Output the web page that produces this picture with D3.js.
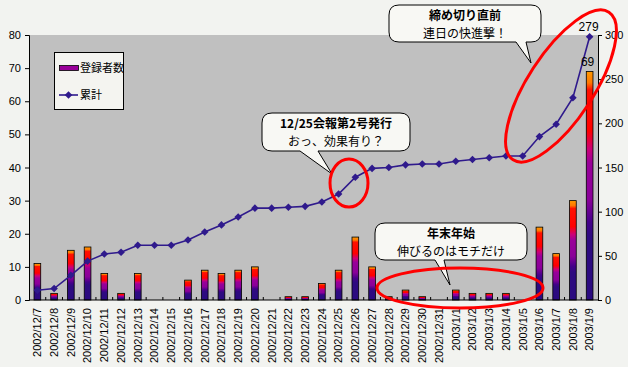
<!DOCTYPE html>
<html>
<head>
<meta charset="utf-8">
<script src="https://cdn.jsdelivr.net/npm/d3@7"></script>
<style>
  html, body { margin: 0; padding: 0; background: #f2f3f0; }
  svg { display: block; }
</style>
</head>
<body>
<svg id="chart" width="628" height="367"></svg>
<script>
(() => {
  // data
  const dates = [
    "2002/12/7", "2002/12/8", "2002/12/9", "2002/12/10", "2002/12/11", "2002/12/12",
    "2002/12/13", "2002/12/14", "2002/12/15", "2002/12/16", "2002/12/17", "2002/12/18",
    "2002/12/19", "2002/12/20", "2002/12/21", "2002/12/22", "2002/12/23", "2002/12/24",
    "2002/12/25", "2002/12/26", "2002/12/27", "2002/12/28", "2002/12/29", "2002/12/30",
    "2002/12/31", "2003/1/1", "2003/1/2", "2003/1/3", "2003/1/4", "2003/1/5",
    "2003/1/6", "2003/1/7", "2003/1/8", "2003/1/9"
  ];
  const registrations = [11, 2, 15, 16, 8, 2, 8, 0, 0, 6, 9, 8, 9, 10, 0, 1, 1, 5,
    9, 19, 10, 1, 3, 1, 0, 3, 2, 2, 2, 0, 22, 14, 30, 69];
  const cumulative = [11, 13, 28, 44, 52, 54, 62, 62, 62, 68, 77, 85, 94, 104, 104, 105, 106, 111,
    120, 139, 149, 150, 153, 154, 154, 157, 159, 161, 163, 163, 185, 199, 229, 298];
  const leftTicks = [0, 10, 20, 30, 40, 50, 60, 70, 80];
  const rightTicks = [0, 50, 100, 150, 200, 250, 300];
  const seriesNames = ["登録者数", "累計"];

  const svg = d3.select("#chart");
  const margin = {top: 35, right: 30, bottom: 67, left: 29};
  const W = 628, H = 367;
  const lineColor = "#2f1a8c";
  const jp = "'Noto Sans CJK JP', sans-serif";
  const num = "'Liberation Sans', Arial, sans-serif";

  const x = d3.scaleBand().domain(dates).range([margin.left, W - margin.right]).padding(0);
  const yL = d3.scaleLinear().domain([0, 80]).range([H - margin.bottom, margin.top]);
  const yR = d3.scaleLinear().domain([0, 300]).range([H - margin.bottom, margin.top]);

  // bar gradient
  const grad = svg.append("defs").append("linearGradient")
      .attr("id", "barGrad")
      .attr("x1", 0).attr("y1", 0).attr("x2", 0).attr("y2", 1);
  [["0%", "#ff9900"], ["5%", "#ff7700"], ["8%", "#ff1100"], ["26%", "#ff0000"],
   ["34%", "#cc0077"], ["40%", "#990099"], ["56%", "#8a0099"], ["66%", "#44008a"],
   ["72%", "#2e0a80"], ["100%", "#2a0a80"]].forEach(s => {
    grad.append("stop").attr("offset", s[0]).attr("stop-color", s[1]);
  });

  // plot area
  svg.append("rect")
      .attr("x", margin.left).attr("y", margin.top)
      .attr("width", W - margin.left - margin.right)
      .attr("height", H - margin.top - margin.bottom)
      .attr("fill", "#c0c0c0");

  // bars
  const barW = x.bandwidth() / 2.5;
  svg.append("g").selectAll("rect")
    .data(registrations.map((v, i) => ({date: dates[i], value: v})).filter(d => d.value > 0))
    .enter().append("rect")
      .attr("x", d => x(d.date) + (x.bandwidth() - barW) / 2)
      .attr("y", d => yL(d.value))
      .attr("width", barW)
      .attr("height", d => yL(0) - yL(d.value))
      .attr("fill", "url(#barGrad)")
      .attr("stroke", "#000")
      .attr("stroke-width", 0.8);

  // axes
  const axL = svg.append("g")
      .attr("transform", "translate(" + margin.left + ",0)")
      .call(d3.axisLeft(yL).tickValues(leftTicks).tickSize(4).tickPadding(4));
  const axR = svg.append("g")
      .attr("transform", "translate(" + (W - margin.right) + ",0)")
      .call(d3.axisRight(yR).tickValues(rightTicks).tickSize(4).tickPadding(3));
  const axB = svg.append("g")
      .attr("transform", "translate(0," + (H - margin.bottom) + ")")
      .call(d3.axisBottom(x).tickSize(0).tickPadding(0));

  [axL, axR, axB].forEach(a => {
    a.select(".domain").attr("stroke", "#000");
    a.selectAll("text").attr("font-family", num).attr("font-size", 11).attr("fill", "#000");
  });
  axB.select(".domain").attr("d", "M" + margin.left + ",0H" + (W - margin.right));
  axB.selectAll(".tick text")
      .attr("transform", "translate(0,8) rotate(-90)")
      .attr("text-anchor", "end")
      .attr("dx", 0)
      .attr("dy", "0.35em")
      .attr("y", 0);

  // category separator ticks on the baseline
  svg.append("g").selectAll("line")
    .data(dates.slice(1))
    .enter().append("line")
      .attr("x1", d => x(d)).attr("x2", d => x(d))
      .attr("y1", yL(0)).attr("y2", yL(0) - 3)
      .attr("stroke", "#000");

  // cumulative line
  const cx = d => x(d) + x.bandwidth() / 2;
  const line = d3.line()
      .x((d, i) => cx(dates[i]))
      .y(d => yR(d));
  svg.append("path")
      .datum(cumulative)
      .attr("d", line)
      .attr("fill", "none")
      .attr("stroke", lineColor)
      .attr("stroke-width", 1.6);
  svg.append("g").selectAll("path")
    .data(cumulative)
    .enter().append("path")
      .attr("transform", (d, i) => "translate(" + cx(dates[i]) + "," + yR(d) + ")")
      .attr("d", "M0,-3.8L3.8,0L0,3.8L-3.8,0Z")
      .attr("fill", lineColor);

  // value labels
  const last = dates.length - 1;
  svg.append("text")
      .attr("x", cx(dates[last]) - 1).attr("y", yR(cumulative[last]) - 6)
      .attr("text-anchor", "middle")
      .attr("font-family", num).attr("font-size", 12)
      .text("279");
  svg.append("text")
      .attr("x", cx(dates[last]) - 2).attr("y", yL(registrations[last]) - 5)
      .attr("text-anchor", "middle")
      .attr("font-family", num).attr("font-size", 12)
      .text(registrations[last]);

  // legend
  const lg = svg.append("g");
  lg.append("rect")
      .attr("x", 54.5).attr("y", 52.5).attr("width", 69).attr("height", 57)
      .attr("fill", "#f4f4f0").attr("stroke", "#000");
  lg.append("rect")
      .attr("x", 59.5).attr("y", 65.5).attr("width", 19).attr("height", 5)
      .attr("fill", "#990099").attr("stroke", "#000").attr("stroke-width", 0.8);
  lg.append("line")
      .attr("x1", 59).attr("x2", 78).attr("y1", 95).attr("y2", 95)
      .attr("stroke", lineColor).attr("stroke-width", 1.6);
  lg.append("path")
      .attr("transform", "translate(68.5,95)")
      .attr("d", "M0,-3.8L3.8,0L0,3.8L-3.8,0Z")
      .attr("fill", lineColor);
  lg.selectAll("text.lab")
    .data(seriesNames)
    .enter().append("text")
      .attr("x", 80).attr("y", (d, i) => i === 0 ? 72 : 99)
      .attr("font-family", jp).attr("font-size", 11)
      .text(d => d);

  // callouts
  const callout = (bx, by, bw, bh, b1, b2, tx, ty, bold, normal) => {
    const r = 10;
    const p = "M" + (bx + r) + "," + by +
      "H" + (bx + bw - r) +
      "Q" + (bx + bw) + "," + by + " " + (bx + bw) + "," + (by + r) +
      "V" + (by + bh - r) +
      "Q" + (bx + bw) + "," + (by + bh) + " " + (bx + bw - r) + "," + (by + bh) +
      "H" + b2 + "L" + tx + "," + ty + "L" + b1 + "," + (by + bh) +
      "H" + (bx + r) +
      "Q" + bx + "," + (by + bh) + " " + bx + "," + (by + bh - r) +
      "V" + (by + r) +
      "Q" + bx + "," + by + " " + (bx + r) + "," + by + "Z";
    const g = svg.append("g");
    g.append("path").attr("d", p).attr("fill", "#f8f8f4").attr("stroke", "#000").attr("stroke-width", 1);
    g.append("text")
        .attr("x", bx + bw / 2).attr("y", by + 15)
        .attr("text-anchor", "middle")
        .attr("font-family", jp).attr("font-size", 12).attr("font-weight", "bold")
        .text(bold);
    g.append("text")
        .attr("x", bx + bw / 2).attr("y", by + 32.5)
        .attr("text-anchor", "middle")
        .attr("font-family", jp).attr("font-size", 12)
        .text(normal);
  };
  callout(262, 113, 148, 38, 300, 318, 332, 174, "12/25会報第2号発行", "おっ、効果有り？");
  callout(389, 5, 152, 37, 516, 526, 531, 63, "締め切り直前", "連日の快進撃！");
  callout(375, 223, 152, 37, 435, 444, 450, 285, "年末年始", "伸びるのはモチだけ");

  // red ellipses
  const ell = svg.append("g").attr("fill", "none").attr("stroke", "#ff0000").attr("stroke-width", 3);
  ell.append("ellipse").attr("cx", 349).attr("cy", 183).attr("rx", 19).attr("ry", 24);
  ell.append("ellipse").attr("cx", 0).attr("cy", 0).attr("rx", 88).attr("ry", 33)
      .attr("transform", "translate(561,86) rotate(-57)");
  ell.append("ellipse").attr("cx", 460).attr("cy", 288).attr("rx", 83).attr("ry", 20);
})();
</script>
</body>
</html>
